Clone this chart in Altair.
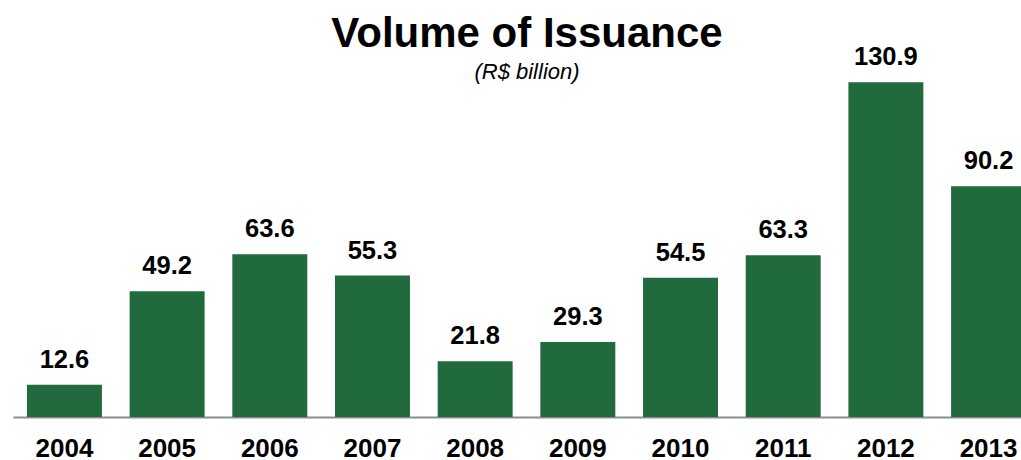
import altair as alt
import pandas as pd

years = ["2004", "2005", "2006", "2007", "2008", "2009", "2010", "2011", "2012", "2013"]
values = [12.6, 49.2, 63.6, 55.3, 21.8, 29.3, 54.5, 63.3, 130.9, 90.2]
labels = ["12.6", "49.2", "63.6", "55.3", "21.8", "29.3", "54.5", "63.3", "130.9", "90.2"]

df = pd.DataFrame({"year": years, "value": values, "label": labels})

FONT = "Liberation Sans"
GREEN = "#216A3D"

x = alt.X(
    "year:N",
    sort=years,
    title=None,
    scale=alt.Scale(range=[0, 1027], paddingInner=0.27, paddingOuter=0.136),
    axis=alt.Axis(
        labelAngle=0,
        labelFont=FONT,
        labelFontSize=26,
        labelFontWeight="bold",
        labelColor="black",
        labelBaseline="alphabetic",
        labelPadding=39,
        ticks=False,
        tickSize=0,
        domainColor="#8c8c8c",
        domainWidth=2,
        grid=False,
    ),
)
y = alt.Y("value:Q", title=None, axis=None, scale=alt.Scale(domain=[0, 140], nice=False))

bars = alt.Chart(df).mark_bar(color=GREEN).encode(x=x, y=y)
text = alt.Chart(df).mark_text(
    font=FONT, fontSize=25.5, fontWeight="bold", color="black", baseline="alphabetic", dy=-17
).encode(x=x, y=y, text="label:N")

chart = (
    alt.layer(bars, text)
    .properties(
        width=1008,
        height=358,
        background="white",
        autosize=alt.AutoSizeParams(type="none"),
        padding={"left": 13, "top": 59, "right": 0, "bottom": 43},
        title=alt.TitleParams(
            text="Volume of Issuance",
            subtitle="(R$ billion)",
            font=FONT,
            fontSize=42,
            fontWeight="bold",
            color="black",
            subtitleFont=FONT,
            subtitleFontSize=22,
            subtitleFontStyle="italic",
            subtitleColor="black",
            subtitlePadding=6,
            anchor="middle",
            offset=-39,
            dx=10,
        ),
    )
    .configure_view(strokeWidth=0, stroke="transparent")
    .configure_axis(grid=False)
)

chart.save("out.html", embed_options={"renderer": "svg", "actions": False})
